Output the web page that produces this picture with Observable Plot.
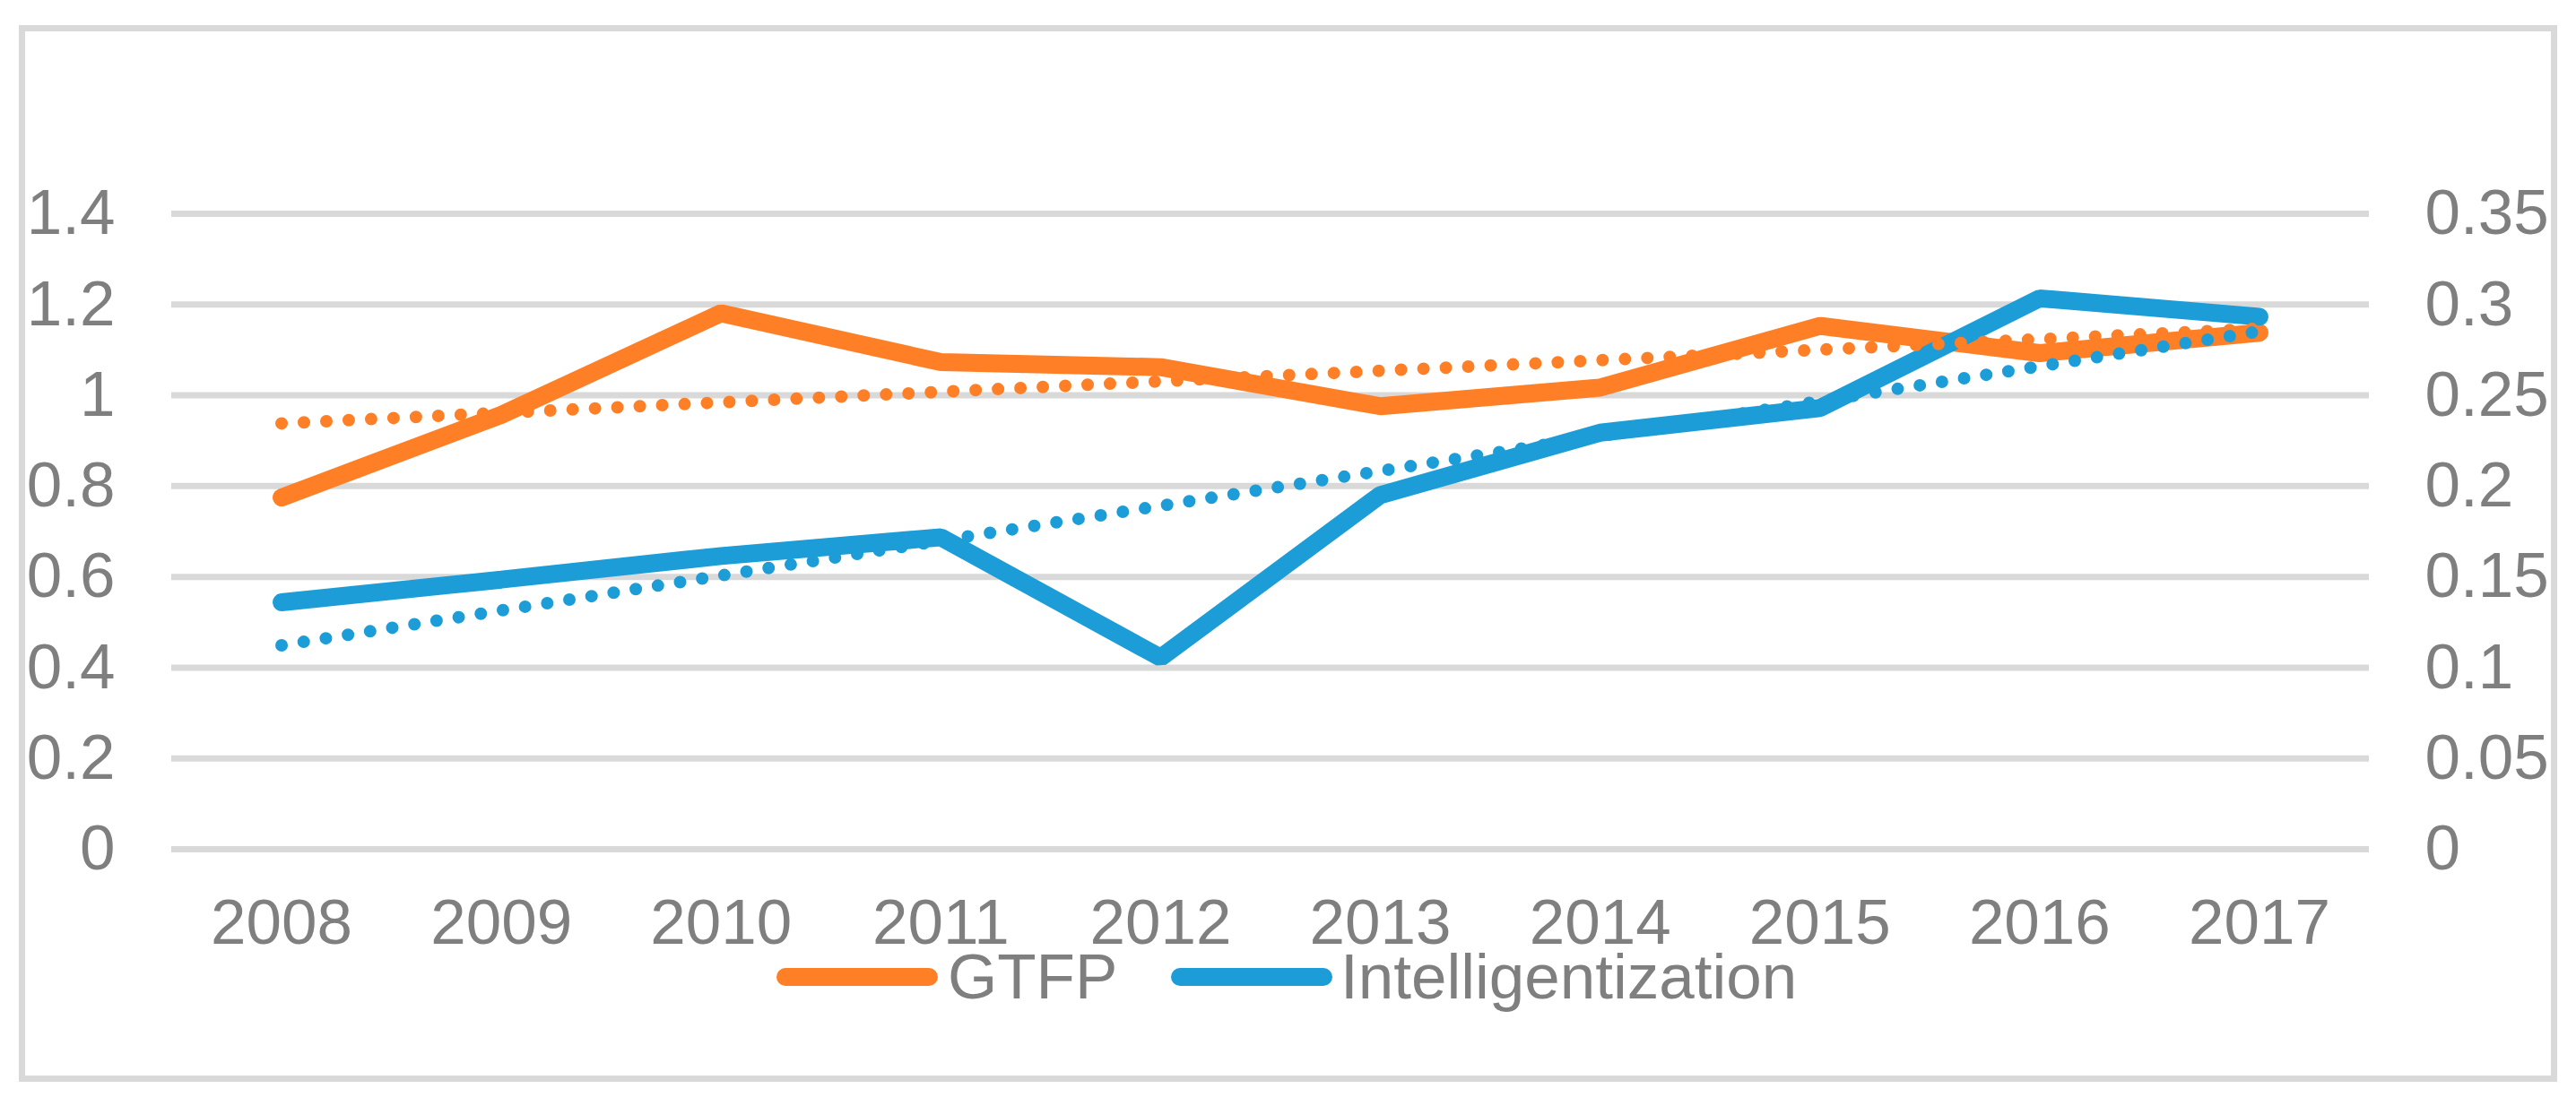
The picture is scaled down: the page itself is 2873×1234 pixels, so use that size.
<!DOCTYPE html>
<html>
<head>
<meta charset="utf-8">
<script src="https://cdn.jsdelivr.net/npm/d3@7"></script>
<script src="https://cdn.jsdelivr.net/npm/@observablehq/plot@0.6"></script>
<style>
  html, body { margin: 0; padding: 0; background: #fff; }
  body { width: 2873px; height: 1234px; position: relative; overflow: hidden;
         font-family: "Liberation Sans", Arial, sans-serif; }
  #frame { position: absolute; left: 21px; top: 28px; width: 2831px; height: 1179px;
           box-sizing: border-box; border: 7px solid #d9d9d9; }
  #chart { position: absolute; left: 0; top: 0; }
  #legend { position: absolute; left: 0; top: 1060px; width: 2873px; height: 60px; }
  .sw { position: absolute; top: 20px; width: 180px; height: 20px; border-radius: 10px; }
  .lt { position: absolute; top: 8px; height: 44px; line-height: 44px; font-size: 71px; color: #7f7f7f; white-space: nowrap; }
</style>
</head>
<body>
<div id="frame"></div>
<div id="chart"></div>
<div id="legend"></div>
<script>
// ---- data ----
const years = [2008, 2009, 2010, 2011, 2012, 2013, 2014, 2015, 2016, 2017];
const xLabels = ["2008", "2009", "2010", "2011", "2012", "2013", "2014", "2015", "2016", "2017"];
const gtfp = [0.775, 0.957, 1.181, 1.073, 1.062, 0.976, 1.017, 1.153, 1.093, 1.138];
const intelligentization = [0.136, 0.1485, 0.1615, 0.1718, 0.1055, 0.1951, 0.2294, 0.243, 0.3034, 0.2933];
const seriesNames = ["GTFP", "Intelligentization"];
const colors = ["#fe7f26", "#1d9dd8"];
const leftTicks = [0, 0.2, 0.4, 0.6, 0.8, 1, 1.2, 1.4];
const leftLabels = ["0", "0.2", "0.4", "0.6", "0.8", "1", "1.2", "1.4"];
const rightTicks = [0, 0.05, 0.1, 0.15, 0.2, 0.25, 0.3, 0.35];
const rightLabels = ["0", "0.05", "0.1", "0.15", "0.2", "0.25", "0.3", "0.35"];

// secondary axis [0, 0.35] mapped onto primary [0, 1.4]
const ratio = 1.4 / 0.35;

const gtfpData = years.map((year, i) => ({year, v: gtfp[i]}));
const intelData = years.map((year, i) => ({year, v: intelligentization[i] * ratio}));

const findIdx = (arr, d) => arr.findIndex(t => Math.abs(t - d) < 1e-9);

const textColor = "#7f7f7f";
const fs = 71;

const chart = Plot.plot({
  width: 2873,
  height: 1060,
  marginLeft: 191,
  marginRight: 231,
  marginTop: 238,
  marginBottom: 113,
  style: { fontFamily: "'Liberation Sans', Arial, sans-serif", fontSize: fs + "px", color: textColor, background: "transparent", overflow: "visible" },
  x: { domain: [2007.5, 2017.5] },
  y: { domain: [0, 1.4] },
  marks: [
    Plot.gridY(leftTicks, { stroke: "#d9d9d9", strokeOpacity: 1, strokeWidth: 7 }),
    Plot.axisY(leftTicks, { anchor: "left", tickSize: 0, tickPadding: 63, fontSize: fs, fill: textColor,
      tickFormat: d => leftLabels[findIdx(leftTicks, d)], label: null }),
    Plot.axisY(rightTicks.map(t => t * ratio), { anchor: "right", tickSize: 0, tickPadding: 62, fontSize: fs, fill: textColor,
      tickFormat: d => rightLabels[findIdx(rightTicks.map(t => t * ratio), d)], label: null }),
    Plot.axisX(years, { anchor: "bottom", tickSize: 0, tickPadding: 55, fontSize: fs, fill: textColor,
      tickFormat: d => xLabels[years.indexOf(d)], label: null }),
    Plot.line(gtfpData, { x: "year", y: "v", stroke: colors[0], strokeWidth: 20, strokeLinecap: "round", strokeLinejoin: "miter" }),
    Plot.line(intelData, { x: "year", y: "v", stroke: colors[1], strokeWidth: 20, strokeLinecap: "round", strokeLinejoin: "miter" }),
    Plot.linearRegressionY(gtfpData, { x: "year", y: "v", stroke: colors[0], ci: 0, strokeWidth: 14, strokeDasharray: "0 25", strokeLinecap: "round" }),
    Plot.linearRegressionY(intelData, { x: "year", y: "v", stroke: colors[1], ci: 0, strokeWidth: 14, strokeDasharray: "0 25", strokeLinecap: "round" })
  ]
});
document.getElementById("chart").appendChild(chart);

// ---- legend ----
const legend = document.getElementById("legend");
const swLeft = [866, 1306];
const txtLeft = [1057, 1495];
seriesNames.forEach((name, i) => {
  const sw = document.createElement("div");
  sw.className = "sw";
  sw.style.left = swLeft[i] + "px";
  sw.style.background = colors[i];
  legend.appendChild(sw);
  const t = document.createElement("div");
  t.className = "lt";
  t.style.left = txtLeft[i] + "px";
  t.textContent = name;
  legend.appendChild(t);
});
</script>
</body>
</html>
